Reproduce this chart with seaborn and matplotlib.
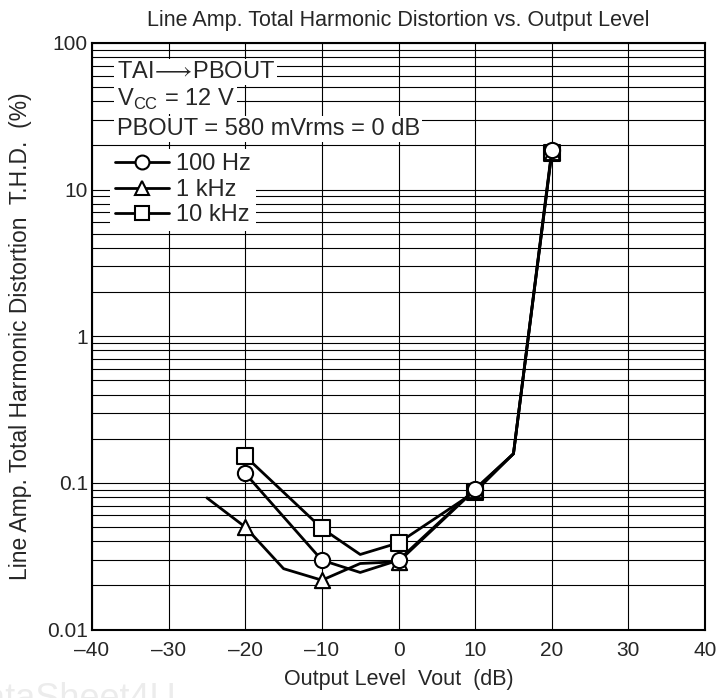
import pandas as pd
import seaborn as sns
import matplotlib.pyplot as plt
from matplotlib.lines import Line2D
from matplotlib.ticker import LogLocator, FixedLocator, NullFormatter

# Values (T.H.D. in %, output level in dB)
levels_100hz = [-20, -10, -5, 0, 10, 15, 20]
thd_100hz = [0.116, 0.0297, 0.0245, 0.0297, 0.091, 0.158, 18.5]

levels_1khz = [-25, -20, -15, -10, -5, 0, 10, 15, 20]
thd_1khz = [0.079, 0.050, 0.026, 0.0217, 0.0282, 0.029, 0.090, 0.158, 18.0]

levels_10khz = [-20, -10, -5, 0, 10, 15, 20]
thd_10khz = [0.152, 0.049, 0.0325, 0.039, 0.087, 0.158, 17.8]

series = ["10 kHz", "1 kHz", "100 Hz"]   # drawing order, circles on top
markers = {"100 Hz": "o", "1 kHz": "^", "10 kHz": "s"}
x_ticks = [-40, -30, -20, -10, 0, 10, 20, 30, 40]
y_ticks = [0.01, 0.1, 1, 10, 100]
y_ticklabels = ["0.01", "0.1", "1", "10", "100"]

df = pd.concat([
    pd.DataFrame({"level": levels_100hz, "thd": thd_100hz, "freq": "100 Hz"}),
    pd.DataFrame({"level": levels_1khz, "thd": thd_1khz, "freq": "1 kHz"}),
    pd.DataFrame({"level": levels_10khz, "thd": thd_10khz, "freq": "10 kHz"}),
], ignore_index=True)

sns.set_style("white")
plt.rcParams["font.family"] = ["Liberation Sans", "DejaVu Sans"]
plt.rcParams["mathtext.fontset"] = "custom"
plt.rcParams["mathtext.rm"] = "Liberation Sans"

fig = plt.figure(figsize=(7.2, 6.98), dpi=100)
ax = fig.add_axes([0.1278, 0.0981, 0.8514, 0.8403])

for i, name in enumerate(series):
    sub = df[df["freq"] == name]
    sns.lineplot(data=sub, x="level", y="thd", color="black", linewidth=2.0,
                 estimator=None, sort=False, ax=ax, zorder=3 + i)
    pts = sub[sub["level"] % 10 == 0]
    sns.scatterplot(data=pts, x="level", y="thd", marker=markers[name], s=120,
                    color="white", edgecolor="black", linewidth=1.5,
                    ax=ax, zorder=3.5 + i)

ax.set_yscale("log")
ax.set_xlim(-40, 40)
ax.set_ylim(0.01, 100)
ax.xaxis.set_major_locator(FixedLocator(x_ticks))
ax.set_xticklabels([str(t).replace("-", "\u2013") for t in x_ticks])
ax.yaxis.set_major_locator(FixedLocator(y_ticks))
ax.set_yticklabels(y_ticklabels)
ax.yaxis.set_minor_locator(LogLocator(base=10, subs=[2, 3, 4, 5, 6, 7, 8, 9]))
ax.yaxis.set_minor_formatter(NullFormatter())
ax.tick_params(which="both", length=0, labelsize=15)
ax.tick_params(axis="x", pad=8)
ax.tick_params(axis="y", pad=3)
ax.grid(True, which="both", axis="y", color="black", linewidth=0.8)
ax.grid(True, which="major", axis="x", color="black", linewidth=0.8)
ax.set_axisbelow(True)
for sp in ax.spines.values():
    sp.set_color("black")
    sp.set_linewidth(1.5)

ax.set_title("Line Amp. Total Harmonic Distortion vs. Output Level", fontsize=15.5, pad=12)
ax.set_xlabel("Output Level  Vout  (dB)", fontsize=15.5, labelpad=7)
ax.set_ylabel("Line Amp. Total Harmonic Distortion  T.H.D.  (%)", fontsize=16.5, labelpad=11)

# condition text block
box = dict(facecolor="white", edgecolor="none", pad=1.5)
ax.text(0.04, 0.951, "TAI$\\!\\longrightarrow\\!$PBOUT", transform=ax.transAxes, fontsize=17,
        va="center", ha="left", bbox=box, zorder=6)
ax.text(0.04, 0.904, "V$_\\mathregular{CC}$ = 12 V", transform=ax.transAxes, fontsize=17,
        va="center", ha="left", bbox=box, zorder=6)
ax.text(0.04, 0.853, "PBOUT = 580 mVrms = 0 dB", transform=ax.transAxes, fontsize=17,
        va="center", ha="left", bbox=box, zorder=6)

handles = [Line2D([], [], color="black", linewidth=2.0, marker=markers[n], markersize=10,
                  markerfacecolor="white", markeredgecolor="black", markeredgewidth=1.5)
           for n in ["100 Hz", "1 kHz", "10 kHz"]]
leg = ax.legend(handles, ["100 Hz", "1 kHz", "10 kHz"], loc="upper left",
                bbox_to_anchor=(0.01, 0.84), fontsize=17, handlelength=2.3,
                handletextpad=0.3, labelspacing=0.15, borderpad=0.2,
                frameon=True, fancybox=False, framealpha=1)
leg.get_frame().set_edgecolor("none")
leg.set_zorder(6)

# faint watermark in the bottom-left margin (cut by the page edge, as in the scan)
fig.text(-0.057, -0.016, "DataSheet4U", fontsize=26, color="#ececec", ha="left", va="baseline")

fig.savefig("out.png", dpi=100)
